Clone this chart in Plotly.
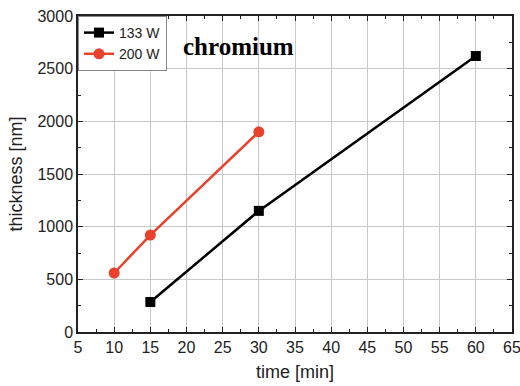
import plotly.graph_objects as go

time_133 = [15, 30, 60]
thick_133 = [285, 1150, 2620]
time_200 = [10, 15, 30]
thick_200 = [560, 920, 1900]
x_ticks = list(range(5, 70, 5))
y_ticks = list(range(0, 3500, 500))

fig = go.Figure()
fig.add_trace(go.Scatter(x=time_133, y=thick_133, mode="lines+markers", name="133 W",
                         line=dict(color="black", width=2.5),
                         marker=dict(symbol="square", size=10, color="black")))
fig.add_trace(go.Scatter(x=time_200, y=thick_200, mode="lines+markers", name="200 W",
                         line=dict(color="#e8412c", width=2.5),
                         marker=dict(symbol="circle", size=11, color="#e8412c")))

axis_common = dict(showline=True, linecolor="#222", linewidth=1.5, mirror="ticks",
                   ticks="inside", ticklen=5, tickcolor="#222", showgrid=True,
                   gridcolor="#c8c8c8", gridwidth=1, zeroline=False, automargin=False,
                   ticklabeloverflow="allow",
                   tickfont=dict(family="Liberation Sans, Arial", size=16, color="#222"))

fig.update_xaxes(range=[5, 65], tickvals=x_ticks,
                 minor=dict(ticks="inside", ticklen=3, dtick=2.5, tickcolor="#222", showgrid=False),
                 title=dict(text="time [min]", font=dict(family="Liberation Sans, Arial", size=18, color="#222"), standoff=10),
                 **axis_common)
fig.update_yaxes(range=[0, 3000], tickvals=y_ticks,
                 minor=dict(ticks="inside", ticklen=3, dtick=250, tickcolor="#222", showgrid=False),
                 title=dict(text="thickness [nm]", font=dict(family="Liberation Sans, Arial", size=18, color="#222"), standoff=10),
                 **axis_common)

# white panel behind the label (covers grid, below data)
fig.add_shape(type="rect", xref="paper", yref="paper", x0=0.198, x1=0.55, y0=0.83, y1=1.0,
              fillcolor="white", line=dict(width=0), layer="between")
fig.add_annotation(x=0.37, y=0.905, xref="paper", yref="paper", text="<b>chromium</b>",
                   xanchor="center", yanchor="middle",
                   showarrow=False, font=dict(family="Liberation Serif, Times New Roman", size=25, color="black"))

fig.update_layout(width=520, height=386, margin=dict(l=78, r=8, t=16, b=54, autoexpand=False),
                  plot_bgcolor="white", paper_bgcolor="white", showlegend=True,
                  legend=dict(x=0, y=1, xanchor="left", yanchor="top", bgcolor="white",
                              bordercolor="#888", borderwidth=1, tracegroupgap=0,
                              font=dict(family="Liberation Sans, Arial", size=14, color="#222"),
                              itemwidth=30))

fig.write_html("out.html", config={"displayModeBar": False},
               post_script="document.body.style.margin='0';document.body.style.overflow='hidden';")
